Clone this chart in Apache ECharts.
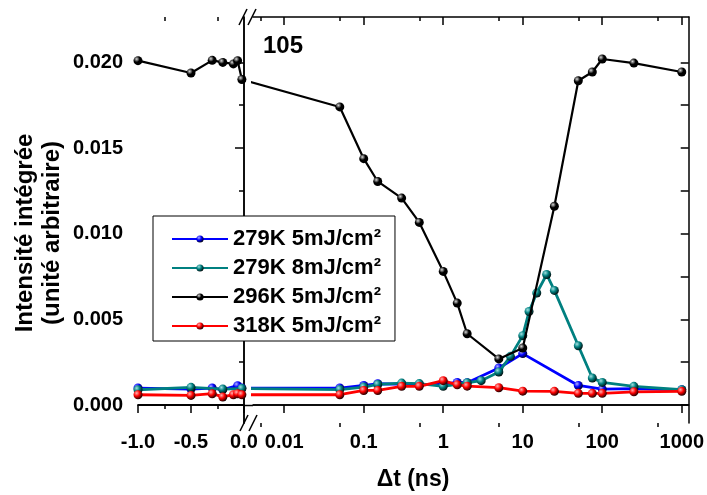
<!DOCTYPE html>
<html>
<head>
<meta charset="utf-8">
<script src="https://cdn.jsdelivr.net/npm/echarts@6/dist/echarts.min.js"></script>
<style>
  html, body { margin: 0; background: #fff; }
  #chart { width: 707px; height: 495px; }
</style>
</head>
<body>
<div id="chart"></div>
<script>
// names in legend order
const seriesNames = ['279K 5mJ/cm²', '279K 8mJ/cm²', '296K 5mJ/cm²', '318K 5mJ/cm²'];
const seriesColors = ['#0000ff', '#008080', '#000000', '#ff0000'];

// delays in ns (negative part linear, positive part log)
const delays279a = [-1, -0.5, -0.3, -0.2, -0.06, -0.02, 0.05, 0.1, 0.15, 0.3, 0.5, 1, 1.5, 2, 5, 10, 50, 100, 250, 1000];
const values279a = [0.00099, 0.00093, 0.00099, 0.00090, 0.00113, 0.00099, 0.00099, 0.00114, 0.00124, 0.00122, 0.00120, 0.00122, 0.00132, 0.00130, 0.00216, 0.00300, 0.00114, 0.00093, 0.00096, 0.00089];

const delays279b = [-1, -0.5, -0.2, -0.02, 0.05, 0.1, 0.15, 0.3, 0.5, 1, 2, 3, 5, 7, 10, 12, 15, 20, 25, 50, 75, 100, 250, 1000];
const values279b = [0.00089, 0.00103, 0.00093, 0.00096, 0.00090, 0.00105, 0.00120, 0.00128, 0.00125, 0.00109, 0.00130, 0.00142, 0.00193, 0.00284, 0.00405, 0.00546, 0.00654, 0.00762, 0.00669, 0.00346, 0.00158, 0.00132, 0.00109, 0.00089];

const delays296 = [-1, -0.5, -0.3, -0.2, -0.1, -0.06, -0.02, 0.05, 0.1, 0.15, 0.3, 0.5, 1, 1.5, 2, 5, 10, 25, 50, 75, 100, 250, 1000];
const values296 = [0.0201, 0.01938, 0.02012, 0.0200, 0.01991, 0.0201, 0.0190, 0.0174, 0.01438, 0.01305, 0.01208, 0.01066, 0.0078, 0.00595, 0.00416, 0.00269, 0.00333, 0.0116, 0.01893, 0.01944, 0.0202, 0.01996, 0.01944];

const delays318 = [-1, -0.5, -0.3, -0.2, -0.1, -0.06, -0.02, 0.05, 0.1, 0.15, 0.3, 0.5, 1, 1.5, 2, 5, 10, 25, 50, 75, 100, 250, 1000];
const values318 = [0.0006, 0.00056, 0.00066, 0.00047, 0.0006, 0.00066, 0.0006, 0.0006, 0.00085, 0.00085, 0.00109, 0.00109, 0.00142, 0.00118, 0.0011, 0.00101, 0.00081, 0.0008, 0.00068, 0.00068, 0.00068, 0.00077, 0.0008];

// ticks
const linTicks = [-1, -0.5, 0];
const linMinorTicks = [-0.75, -0.25];
const logTicks = [0.01, 0.1, 1, 10, 100, 1000];
const logMinorTicks = [0.005, 0.05, 0.5, 5, 50, 500];
const yTicks = [0, 0.005, 0.01, 0.015, 0.02];
const yMinorTicks = [0.0025, 0.0075, 0.0125, 0.0175];
const yAllTicks = [0, 0.0025, 0.005, 0.0075, 0.01, 0.0125, 0.015, 0.0175, 0.02];

// broken axis: t<=0 stays linear, t>0 goes onto a log scale in the same units
const DECADE = 0.7544;
const LOG_OFFSET = 1.8901;
const toAxis = (t) => (t <= 0 ? t : LOG_OFFSET + DECADE * Math.log10(t));

const Y_MIN = -0.00105, Y_MAX = 0.02265;
const R_MIN = 0.0851, R_MAX = 4.2195;

const FONT = 'Liberation Sans';
const labelStyle = { fontFamily: FONT, fontWeight: 'bold', fontSize: 20, color: '#000' };
const axisLine = { show: true, lineStyle: { color: '#000', width: 1.5 } };

function ballColor(c, light) {
  return {
    type: 'radial', x: 0.35, y: 0.32, r: 0.75,
    colorStops: [
      { offset: 0, color: light },
      { offset: 0.45, color: c },
      { offset: 1, color: '#000' }
    ]
  };
}
const lightColors = ['#b0b0ff', '#a0e0e0', '#d8d8d8', '#ffb0b0'];

const allDelays = [delays279a, delays279b, delays296, delays318];
const allValues = [values279a, values279b, values296, values318];

function xAxisPair(gridIndex, min, max, major, minor, formatter) {
  const base = { type: 'value', gridIndex, min, max, splitLine: { show: false } };
  return [
    { ...base, position: 'bottom', axisLine,
      axisTick: { show: true, customValues: major.map(toAxis), length: 8, lineStyle: { width: 1.5, color: '#000' } },
      axisLabel: { show: true, customValues: major.map(toAxis), formatter, margin: 9, ...labelStyle } },
    { ...base, position: 'bottom', axisLine: { show: false },
      axisTick: { show: true, customValues: minor.map(toAxis), length: 4, lineStyle: { width: 1.5, color: '#000' } },
      axisLabel: { show: false } },
    { ...base, position: 'top', axisLine,
      axisTick: { show: true, inside: true, customValues: major.map(toAxis), length: 8, lineStyle: { width: 1.5, color: '#000' } },
      axisLabel: { show: false } },
    { ...base, position: 'top', axisLine: { show: false },
      axisTick: { show: true, inside: true, customValues: minor.map(toAxis), length: 4, lineStyle: { width: 1.5, color: '#000' } },
      axisLabel: { show: false } }
  ];
}

const logLabel = (v) => {
  const i = logTicks.findIndex((t) => Math.abs(toAxis(t) - v) < 1e-6);
  return i < 0 ? '' : String(logTicks[i]);
};

const xAxes = [
  ...xAxisPair(0, -1, 0, linTicks, linMinorTicks, (v) => v.toFixed(1)),
  ...xAxisPair(1, R_MIN, R_MAX, logTicks, logMinorTicks, logLabel)
];

const yBase = { type: 'value', min: Y_MIN, max: Y_MAX, splitLine: { show: false } };
const yAxes = [
  { ...yBase, gridIndex: 0, position: 'left', axisLine,
    axisTick: { show: true, customValues: yTicks, length: 9, lineStyle: { width: 1.5, color: '#000' } },
    axisLabel: { show: true, customValues: yTicks, formatter: (v) => v.toFixed(3), margin: 15, ...labelStyle } },
  { ...yBase, gridIndex: 0, position: 'left', axisLine: { show: false },
    axisTick: { show: true, customValues: yMinorTicks, length: 5, lineStyle: { width: 1.5, color: '#000' } },
    axisLabel: { show: false } },
  { ...yBase, gridIndex: 0, position: 'right', axisLine,
    axisTick: { show: false }, axisLabel: { show: false } },
  { ...yBase, gridIndex: 1, position: 'right', axisLine,
    axisTick: { show: true, inside: true, customValues: yAllTicks, length: 8, lineStyle: { width: 1.5, color: '#000' } },
    axisLabel: { show: false } }
];

const zeroLine = {
  silent: true, symbol: ['none', 'none'], label: { show: false },
  lineStyle: { color: '#000', width: 1.5, type: 'solid' },
  data: [{ yAxis: 0 }]
};

const series = [];
seriesNames.forEach((name, i) => {
  const pts = allDelays[i].map((t, k) => [toAxis(t), allValues[i][k]]);
  const isBlack = i === 2;
  [[0, 0], [4, 3]].forEach(([xi, yi]) => {
    series.push({
      name, type: 'line', xAxisIndex: xi, yAxisIndex: yi, data: pts,
      clip: true, z: 2 + i,
      symbol: 'circle', symbolSize: 9,
      lineStyle: { color: seriesColors[i], width: isBlack ? 2.2 : 2.8 },
      itemStyle: { color: ballColor(seriesColors[i], lightColors[i]), borderWidth: 0 },
      markLine: i === 0 ? zeroLine : undefined
    });
  });
});

const chart = echarts.init(document.getElementById('chart'));
chart.setOption({
  animation: false,
  backgroundColor: '#fff',
  grid: [
    { left: 138, top: 17, width: 106, height: 406 },
    { left: 253, top: 17, width: 437, height: 406 }
  ],
  xAxis: xAxes,
  yAxis: yAxes,
  legend: {
    data: seriesNames,
    orient: 'vertical', left: 153, top: 216,
    padding: [12, 14, 4, 18], itemGap: 7,
    itemWidth: 56, itemHeight: 9,
    backgroundColor: '#fff', borderColor: '#000', borderWidth: 1,
    textStyle: { fontFamily: FONT, fontWeight: 'bold', fontSize: 22, color: '#000' }
  },
  graphic: [
    { type: 'text', left: 263, top: 34,
      style: { text: '105', font: 'bold 24px "Liberation Sans"', fill: '#000' } },
    { type: 'text', x: 413, y: 480,
      style: { text: 'Δt (ns)', font: 'bold 23px "Liberation Sans"', fill: '#000', textAlign: 'center', textVerticalAlign: 'middle' } },
    { type: 'text', x: 25, y: 233, rotation: Math.PI / 2,
      style: { text: 'Intensité intégrée', font: 'bold 24px "Liberation Sans"', fill: '#000', textAlign: 'center', textVerticalAlign: 'middle' } },
    { type: 'text', x: 52, y: 233, rotation: Math.PI / 2,
      style: { text: '(unité arbitraire)', font: 'bold 24px "Liberation Sans"', fill: '#000', textAlign: 'center', textVerticalAlign: 'middle' } },
    // zero reference line across the axis break
    { type: 'line', shape: { x1: 244, y1: 405.5, x2: 253, y2: 405.5 }, style: { stroke: '#000', lineWidth: 1.5 } },
    // axis break marks
    { type: 'line', shape: { x1: 239, y1: 25, x2: 247, y2: 9 }, style: { stroke: '#000', lineWidth: 1.5 } },
    { type: 'line', shape: { x1: 248, y1: 25, x2: 256, y2: 9 }, style: { stroke: '#000', lineWidth: 1.5 } },
    { type: 'line', shape: { x1: 240, y1: 431, x2: 248, y2: 415 }, style: { stroke: '#000', lineWidth: 1.5 } },
    { type: 'line', shape: { x1: 249, y1: 431, x2: 257, y2: 415 }, style: { stroke: '#000', lineWidth: 1.5 } }
  ],
  series
});
</script>
</body>
</html>
